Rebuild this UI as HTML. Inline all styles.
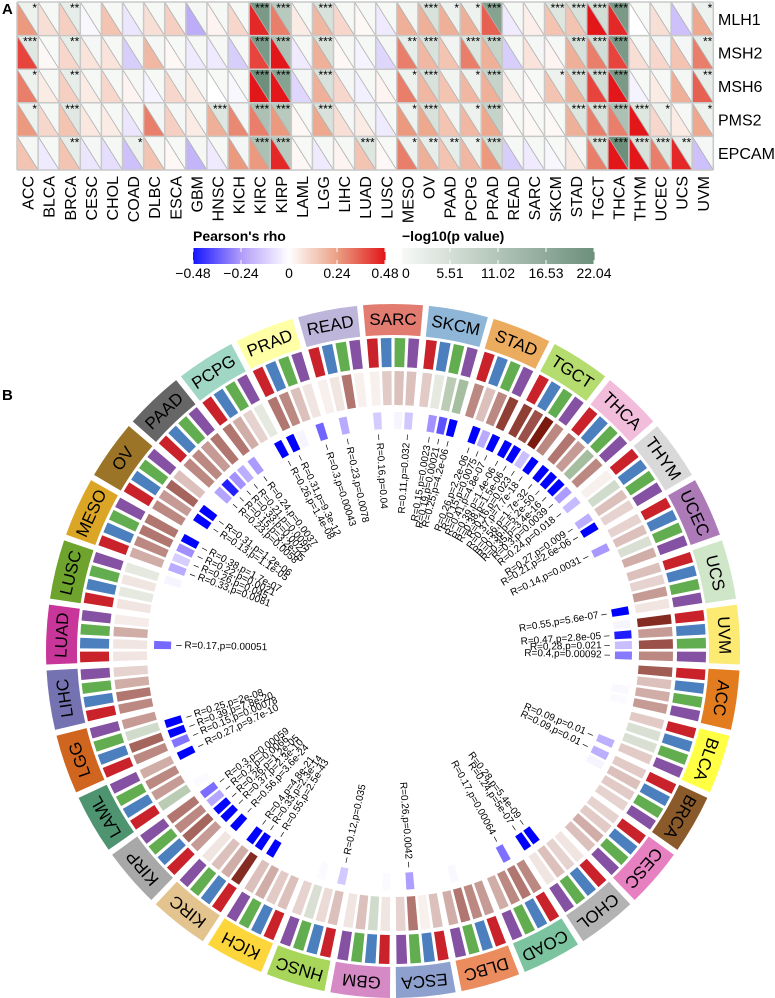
<!DOCTYPE html>
<html><head><meta charset="utf-8"><style>
body{margin:0;background:#fff;}
svg{display:block;font-family:"Liberation Sans",Arial,sans-serif;}
</style></head><body>
<svg id="fig" width="775" height="998" viewBox="0 0 775 998" xmlns="http://www.w3.org/2000/svg">
<text x="2" y="14" font-size="15" font-weight="bold">A</text>
<text x="2" y="400" font-size="15" font-weight="bold">B</text>
<g id="heat"></g>
<g id="legend"></g>
<g id="circ"></g>
</svg>
<script>
const cancers = ["ACC","BLCA","BRCA","CESC","CHOL","COAD","DLBC","ESCA","GBM","HNSC","KICH","KIRC","KIRP","LAML","LGG","LIHC","LUAD","LUSC","MESO","OV","PAAD","PCPG","PRAD","READ","SARC","SKCM","STAD","TGCT","THCA","THYM","UCEC","UCS","UVM"];
const genes = ["MLH1","MSH2","MSH6","PMS2","EPCAM"];
const rhoMLH1 = [0.25,0.08,0.12,-0.02,0.15,-0.06,0.08,0.12,-0.2,0.03,0.1,0.45,0.3,0.05,0.18,0.1,0.02,-0.05,0.2,0.2,0.2,0.2,0.35,-0.05,0.04,0.15,0.15,0.48,0.45,0.0,0.08,-0.15,0.22];
const rhoMSH2 = [0.4,0.02,0.1,0.07,0.07,-0.12,0.18,0.02,-0.05,-0.05,-0.12,0.4,0.48,-0.05,0.2,0.02,-0.03,-0.1,0.3,0.18,0.15,0.3,0.2,-0.12,0.07,0.03,0.2,0.3,0.4,0.08,0.1,0.15,0.3];
const rhoMSH6 = [0.3,0.05,0.12,0.05,0.1,0.03,-0.03,0.1,0.05,0.0,-0.02,0.48,0.48,-0.1,0.2,0.1,-0.04,0.03,0.3,0.18,0.15,0.18,0.2,0.05,0.02,0.15,0.2,0.4,0.48,-0.03,0.05,0.2,0.35];
const rhoPMS2 = [0.25,0.1,0.15,0.06,0.05,-0.06,0.3,0.12,0.05,0.2,0.28,0.3,0.25,0.02,0.22,0.08,0.05,-0.05,0.25,0.22,0.15,0.18,0.22,0.02,0.02,0.02,0.2,0.3,0.3,0.48,0.1,0.05,0.22];
const rhoEPCAM = [0.15,-0.05,0.15,-0.06,-0.08,-0.15,0.15,0.02,-0.18,-0.05,0.25,0.25,0.45,0.02,-0.05,0.03,0.15,0.02,0.3,0.2,0.15,0.18,0.25,-0.12,-0.05,-0.02,0.06,0.3,0.48,0.48,0.3,0.45,-0.15];
const logpMLH1 = [1.5,0.3,2.5,0.2,0.3,0.3,0.3,0.3,0.5,0.2,0.3,20,10,0.2,5,0.3,0.2,0.3,0.8,5,1.5,1.5,18,0.2,0.2,4,5,6,20,0.1,0.5,0.4,1.5];
const logpMSH2 = [3.5,0.1,2.5,0.4,0.2,0.5,0.4,0.1,0.2,0.3,0.3,20,12,0.2,5,0.2,0.2,0.5,2.5,5,1,4,8,0.3,0.4,0.2,5,6,20,0.3,0.6,0.4,2.5];
const logpMSH6 = [1.5,0.3,2.5,0.3,0.2,0.2,0.1,0.4,0.3,0.1,0.1,22,18,0.4,5,0.4,0.3,0.2,1.5,5,1,1.5,8,0.2,0.1,1.5,5,6,20,0.1,0.3,0.5,2.5];
const logpPMS2 = [1.5,0.5,3.5,0.3,0.2,0.3,0.6,0.4,0.3,4,0.6,12,10,0.1,5,0.4,0.5,0.3,1.5,5,1,1.5,8,0.1,0.1,0.1,4,5,12,4,1.5,0.2,1.5];
const logpEPCAM = [0.5,0.3,2.5,0.4,0.3,1.5,0.3,0.1,0.5,0.3,0.6,12,10,0.1,0.3,0.2,4,0.1,1.5,2.5,2.5,1.5,6,0.3,0.3,0.1,0.5,5,22,5,4,2.5,0.4];
const rhoTicks = ["-0.48","-0.24","0","0.24","0.48"];
const pTicks = ["0","5.51","11.02","16.53","22.04"];

const sectorColors = ["#e37c1e","#ffff44","#8b5a2b","#e680c0","#b3b3b3","#7cc4a0","#ea8c5e","#8ea0ce","#d58ac6","#a8d65a","#fcd63a","#e3c48f","#a8a8a8","#4e9470","#d0651f","#7572b2","#c8369a","#6ea32e","#dba526","#9c7427","#666666","#a0d6c4","#ffffa6","#bdb6da","#e27b70","#8fb6d6","#ebac60","#b5dc6e","#f2bddb","#d9d9d9","#ac7ab6","#cfe7c8","#fcea73"];
const geneColors = ["#c9222b","#4b7fbe","#62ad4f","#8551a3"];
const brownVals = [
0.42,0.15,0.2,0.25, 0.12,-0.08,-0.08,0.12, 0.12,0.15,0.12,0.1, 0.1,0.12,0.2,0.15,
0.05,0.1,0.15,0.05, 0.3,0.35,0.3,0.2, 0.25,0.3,0.35,0.2, 0.15,0.02,0.35,0.1,
0.05,-0.1,0.15,0.05, 0.15,0.08,-0.08,0.1, 0.15,0.12,0.2,0.15, 0.55,0.2,0.15,0.05,
0.25,0.4,0.3,0.35, -0.15,0.25,0.3,0.2, 0.3,0.4,-0.1,0.25, 0.3,0.35,0.2,0.1,
0.05,0.05,0.2,0.03, 0.05,-0.05,0.05,-0.05, 0.2,0.3,0.35,0.35, 0.3,0.25,0.4,0.15,
0.3,0.3,0.25,0.35, 0.35,0.2,0.1,-0.05, 0.35,0.3,0.15,0.05, 0.02,0.05,0.35,0.02,
0.02,0.12,0.15,0.15, 0.12,-0.05,-0.15,-0.2, 0.3,0.15,0.3,0.5, 0.5,0.45,0.6,0.3,
0.35,0.25,-0.2,0.3, 0.02,-0.1,0.15,0.1, 0.1,0.15,-0.08,0.2, 0.15,0.1,0.25,0.05,
0.55,0.25,0.45,0.3];
const blueSector = [0,0,1,2,2,4,4,5,6,7,8,9,9,10,11,11,11,12,12,12,12,13,13,14,14,14,16,17,18,18,18,18,19,19,20,20,20,20,21,21,22,22,22,23,24,24,24,25,25,25,26,26,26,27,27,27,27,28,28,28,28,29,29,29,30,31,32,32,32,32];
const blueSlot   = [2,3,3,0,1,2,3,1,2,2,0,0,2,3,0,1,3,0,1,2,3,0,3,0,1,2,1,3,0,1,2,3,1,2,0,1,2,3,0,3,0,1,3,1,0,2,3,1,2,3,1,2,3,0,1,2,3,0,1,2,3,0,2,3,1,3,0,1,2,3];
const blueR = [0.05,0.05,0.09,0.09,0.05,0.28,0.24,0.17,0.05,0.26,0.05,0.12,0.05,0.55,0.33,0.4,0.56,0.37,0.26,0.2,0.3,0.05,0.27,0.15,0.39,0.25,0.17,0.05,0.33,0.26,0.22,0.38,0.13,0.31,0.23,0.15,0.33,0.21,0.24,0.26,0.31,0.05,0.3,0.23,0.16,0.05,0.11,0.15,0.19,0.25,0.26,0.15,0.41,0.39,0.38,0.16,0.37,0.56,0.36,0.35,0.3,0.24,0.27,0.21,0.14,0.55,0.05,0.47,0.28,0.4];
const blueP = ["0.35","0.4","0.01","0.01","0.3","5.4e-09","5e-07","0.00064","0.35","0.0042","0.4","0.035","0.4","2.5e-43","2.3e-14","4.8e-21","3.6e-24","2.3e-10","1.2e-05","0.0066","0.00059","0.4","9.7e-10","0.00078","7.8e-20","2e-08","0.00051","0.3","0.0081","0.045","0.0021","1.7e-07","1.1e-05","1.2e-06","0.0058","3.2e-05","0.0022","0.0095","0.0037","1.4e-08","9.3e-12","0.3","0.00043","0.0078","0.04","0.3","0.032","0.0023","0.00021","4.2e-06","2.2e-06","0.0075","4.8e-07","1.4e-06","1.5e-06","0.023","7.7e-18","1.7e-32","5.2e-50","3.4e-16","0.0039","0.018","0.009","2.6e-06","0.0031","5.6e-07","0.3","2.8e-05","0.021","0.00092"];

const NS="http://www.w3.org/2000/svg";
function mk(tag, attrs, parent){const e=document.createElementNS(NS,tag);for(const k in attrs)e.setAttribute(k,attrs[k]);parent.appendChild(e);return e;}
function hex(c){return [parseInt(c.slice(1,3),16),parseInt(c.slice(3,5),16),parseInt(c.slice(5,7),16)];}
function mix(a,b,t){const A=hex(a),B=hex(b);return "rgb("+A.map((v,i)=>Math.round(v+(B[i]-v)*t)).join(",")+")";}
function rhoColor(v){
  if(v>=0){ if(v<0.24) return mix("#ffffff","#eba084",v/0.24); return mix("#eba084","#e3161a",Math.min(1,(v-0.24)/0.24)); }
  const a=-v; if(a<0.24) return mix("#ffffff","#b09cf8",a/0.24); return mix("#b09cf8","#1515ff",Math.min(1,(a-0.24)/0.24));
}
function pColor(v){const t=Math.min(1,v/22.04); if(t<0.5) return mix("#f7f9f7","#b2c5b8",t/0.5); return mix("#b2c5b8","#6d8f7b",(t-0.5)/0.5);}
function stars(v){return v>3?"***":v>2?"**":v>1.3?"*":"";}

// ---------- Panel A ----------
const heat=document.getElementById("heat");
const x0=17,y0=2,cw=21.1,ch=33.6;
const xA=i=>x0+i*cw, yA=j=>y0+j*ch;
const rhoRows=[rhoMLH1,rhoMSH2,rhoMSH6,rhoPMS2,rhoEPCAM];
const pRows=[logpMLH1,logpMSH2,logpMSH6,logpPMS2,logpEPCAM];
rhoRows.forEach((row,j)=>{
  row.forEach((v,i)=>{
    const x=xA(i),y=yA(j);
    const g=mk("g",{},heat);
    
    
    mk("polygon",{points:`${x},${y} ${x},${y+ch} ${x+cw},${y+ch}`,fill:rhoColor(v)},g);
    mk("polygon",{points:`${x},${y} ${x+cw},${y} ${x+cw},${y+ch}`,fill:pColor(pRows[j][i])},g);
    mk("line",{x1:x,y1:y,x2:x+cw,y2:y+ch,stroke:"#b0b0b0","stroke-width":0.8},g);
    const s=stars(pRows[j][i]);
    if(s){const t=mk("text",{x:x+cw-1,y:y+10,"font-size":12,"text-anchor":"end"},g);t.textContent=s;}
  });
});
for(let i=0;i<=33;i++){mk("line",{x1:xA(i),y1:y0,x2:xA(i),y2:yA(5),stroke:"#c8c8c8","stroke-width":1.5},heat);}
for(let j=0;j<=5;j++){mk("line",{x1:x0,y1:yA(j),x2:xA(33),y2:yA(j),stroke:"#c8c8c8","stroke-width":1.5},heat);}
genes.forEach((g,j)=>{const t=mk("text",{x:718,y:yA(j)+ch/2+6,"font-size":16},heat);t.textContent=g;
  });
cancers.forEach((c,i)=>{const cx=xA(i)+cw/2+6;const t=mk("text",{x:0,y:0,"font-size":16,"text-anchor":"end",transform:`translate(${cx},176) rotate(-90)`},heat);t.textContent=c;
  });

// ---------- Legends ----------
const lg=document.getElementById("legend");
function colorbar(x,w,fn,vals,title,ticks){
  const N=96;for(let k=0;k<N;k++){mk("rect",{x:x+k*w/N,y:248,width:w/N+0.6,height:16,fill:fn(vals[0]+(vals[1]-vals[0])*(k+0.5)/N)},lg);}
  const tt=mk("text",{x:x,y:241,"font-size":14,"font-weight":"bold"},lg);tt.textContent=title;
  ticks.forEach((tk,k)=>{const tx=x+k*w/4;
    mk("line",{x1:tx,y1:248,x2:tx,y2:252,stroke:"#fff","stroke-width":1},lg);
    mk("line",{x1:tx,y1:260,x2:tx,y2:264,stroke:"#fff","stroke-width":1},lg);
    const t=mk("text",{x:tx,y:278,"font-size":14,"text-anchor":k==0&&x>390?"start":"middle"},lg);t.textContent=tk.replace("-","\u2212");});
}
colorbar(193,192,rhoColor,[-0.48,0.48],"Pearson's rho",rhoTicks);
colorbar(402,192,pColor,[0,22.04],"\u2212log10(p value)",pTicks);

// ---------- Panel B ----------
const circ=document.getElementById("circ");
const CX=393,CY=651,SW=360/33,S0=2.73;
const rad=a=>a*Math.PI/180;
const P=(r,a)=>[CX+r*Math.cos(rad(a)),CY+r*Math.sin(rad(a))];
function arc(r0,r1,a0,a1){const a=P(r1,a0),b=P(r1,a1),c=P(r0,a1),d=P(r0,a0);
  return `M${a[0]},${a[1]}A${r1},${r1} 0 0 1 ${b[0]},${b[1]}L${c[0]},${c[1]}A${r0},${r0} 0 0 0 ${d[0]},${d[1]}Z`;}
const slotA=(i,k)=>S0+i*SW+0.35+k*((SW-0.7)/4);
const SL=(SW-0.7)/4;
function brownColor(v){ if(v>=0) return mix("#fcf7f5","#7a1a0f",Math.min(1,v/0.6)); return mix("#fcf7f5","#8fb08b",Math.min(1,-v/0.25)); }
function blueColor(p){const t=Math.max(0,Math.min(1,(-Math.log10(p)-0.3)/4.7)); if(t<0.5) return mix("#ffffff","#a391ff",t/0.5); return mix("#a391ff","#0000ff",(t-0.5)/0.5);}
cancers.forEach((c,i)=>{
  const a0=S0+i*SW+0.5,a1=S0+(i+1)*SW-0.5;
  const g=mk("g",{},circ);
  
  
  mk("path",{d:arc(316,347,a0,a1),fill:sectorColors[i]},g);
  const am=(a0+a1)/2,pt=P(331.5,am);
  const t=mk("text",{x:pt[0],y:pt[1],"font-size":17,"text-anchor":"middle","dominant-baseline":"central",transform:`rotate(${am+90},${pt[0]},${pt[1]})`},g);
  t.textContent=c;
  for(let k=0;k<4;k++){
    const b0=slotA(i,k)+0.3,b1=slotA(i,k)+SL-0.3;
    const gb=mk("path",{d:arc(284,313,b0,b1),fill:geneColors[k]},g);
    
    
    const bb=mk("path",{d:arc(246,280,b0,b1),fill:brownColor(brownVals[i*4+k])},g);
    
    
  }
});
blueSector.forEach((s,n)=>{
  const a=slotA(s,blueSlot[n]),b0=a+0.3,b1=a+SL-0.3,p=parseFloat(blueP[n]);
  const e=mk("path",{d:arc(222,239,b0,b1),fill:blueColor(p)},circ);
  
  
  if(p<0.05){
    const am=(b0+b1)/2,txt="R="+blueR[n]+",p="+blueP[n];
    let t;
    if(Math.cos(rad(am))>=0){
      t=mk("text",{x:217,y:0,"font-size":10,"text-anchor":"end","dominant-baseline":"central",transform:`translate(${CX},${CY}) rotate(${am})`},circ);
      t.textContent=txt+" \u2013";
    } else {
      t=mk("text",{x:-217,y:0,"font-size":10,"text-anchor":"start","dominant-baseline":"central",transform:`translate(${CX},${CY}) rotate(${am+180})`},circ);
      t.textContent="\u2013 "+txt;
    }
    
    
  }
});
</script>
</body></html>
